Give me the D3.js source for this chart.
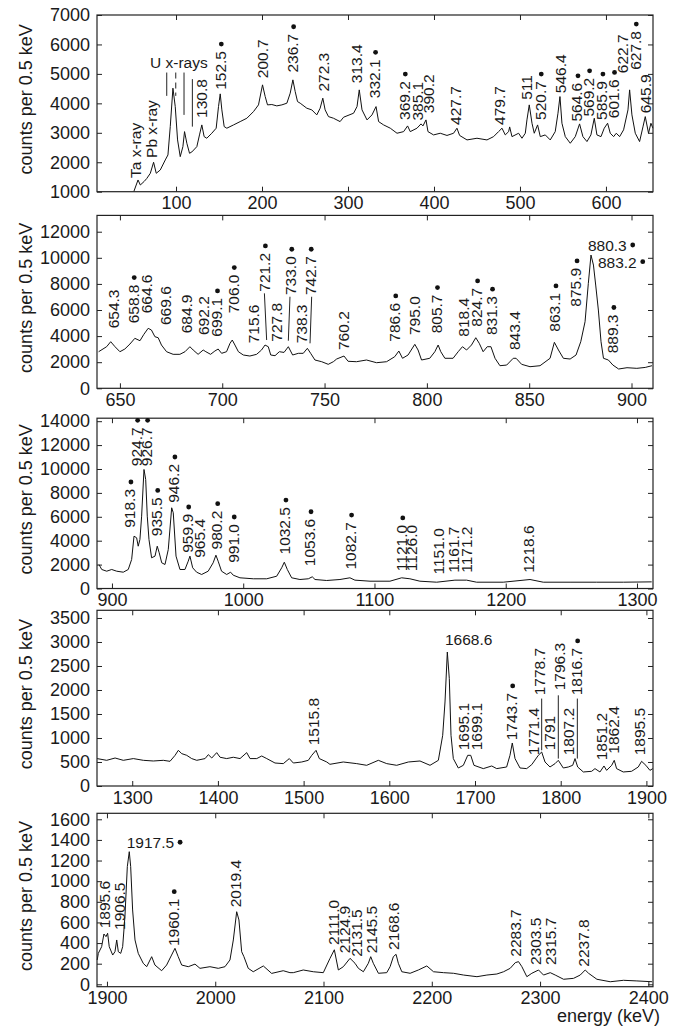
<!DOCTYPE html>
<html><head><meta charset="utf-8">
<script src="https://cdn.jsdelivr.net/npm/d3@7"></script>
<style>body{margin:0;background:#fff}text{font-family:"Liberation Sans",Arial,sans-serif;fill:#1a1a1a}</style>
</head><body><svg id="c" width="673" height="1027"></svg>
<script>
// ---------- DATA (energy keV, counts per 0.5 keV) ----------
const p1Spectrum = [[51,1010],[55.8,1398],[58.5,1228],[63,1350],[66,1450],[70.1,1625],[73.9,2000],[77,1625],[81.7,1738],[87.5,2078],[90.6,2248],[93.3,3210],[96.4,4515],[99.1,3890],[101.8,2758],[104.9,2190],[108,2530],[109.9,3040],[112.6,2645],[115.7,2305],[118.4,2350],[124.2,2530],[127.3,2928],[130,3268],[132.7,2870],[135.8,2815],[141.6,2985],[146.7,3156],[149.4,3890],[151.4,4322],[153.3,3778],[156,3210],[159.1,3156],[166.9,3268],[174.6,3380],[182.4,3495],[190.1,3720],[195.9,3948],[200.6,4628],[203.7,4230],[206.4,3948],[211.4,3960],[217.2,3914],[223.1,3948],[228.9,4005],[232.8,4346],[235.9,4798],[238.6,4400],[241.3,4060],[244.4,4005],[252.1,3835],[257.9,3778],[263.7,3608],[267.6,3835],[270.7,4176],[273.4,3778],[277.3,3550],[283.1,3495],[290.8,3380],[294.9,3530],[306.5,3665],[310.5,3890],[313.1,4458],[316.3,3778],[322.1,3438],[327.9,3608],[332.6,3890],[335.6,3380],[341.4,3268],[349.2,3156],[357,2985],[364.7,3040],[369.3,3234],[372.4,3040],[380.2,3156],[384.9,3302],[387.2,3234],[390.7,3438],[393,3040],[399.5,2928],[407.3,2985],[415.1,2910],[422.8,2985],[426.7,3156],[429.8,2910],[438.4,2758],[450,2815],[461.6,2758],[469.3,2870],[475.1,3040],[479.1,3156],[482.9,2928],[486.8,3040],[488,3200],[490.7,2870],[498.4,2985],[502.3,2815],[506.2,2985],[508.1,3438],[510.8,3948],[514,3324],[516.6,2985],[520.5,3268],[523.6,2870],[529.4,2928],[535.2,2758],[541,3040],[544.2,3665],[546.5,4230],[548.8,3324],[552.7,2870],[558.5,2645],[564.3,2870],[569.3,3302],[573.2,2870],[577.9,2702],[582.5,2928],[586.4,3495],[589.5,2928],[594.2,2870],[598,3156],[601.9,3325],[605,2985],[608.9,2870],[612,2985],[615.9,2870],[620.5,3100],[625.6,3778],[627.5,4458],[630.2,3608],[634.1,2985],[639.1,2702],[643,3200],[645.7,3550],[649.5,2985],[652.3,3324],[654.6,3156]];
const p2Spectrum = [[639.6,2804],[643.5,3187],[645.5,3570],[647.6,3187],[650,2804],[652.4,3010],[654.9,3393],[657.3,3830],[659.8,3646],[661.7,4136],[663.8,4596],[665.4,4466],[667.1,3953],[668.7,3876],[670.3,3317],[672.8,2804],[676,2604],[679.3,2604],[681.8,2804],[684.2,3187],[685.8,2934],[688.2,2604],[690.7,2934],[692,2804],[694.3,2604],[696.4,2857],[698,3010],[699.7,2681],[702.1,2804],[703.8,3447],[704.9,3700],[706.2,3317],[707.9,2804],[710.3,2551],[713.5,2474],[716.8,2604],[719.2,2934],[720.9,3317],[722.5,3187],[723.7,2551],[725.8,2500],[727.9,2804],[730.2,2750],[732.3,3187],[734.4,2551],[737.2,2681],[739.6,2681],[741.6,3064],[743.2,2681],[745.3,2168],[748.6,2038],[751.8,1838],[754.3,2038],[755.9,2244],[759.5,2474],[761.5,2070],[765.6,2038],[770.5,2168],[775.4,1961],[780.3,2038],[784.3,2423],[786.3,2857],[788.1,2300],[790.8,2551],[794.1,3370],[795.7,2934],[797.4,2168],[801.4,2300],[803.9,2804],[805.5,3317],[806.8,2804],[808.8,2300],[812.8,2300],[815.3,2804],[817.4,3187],[819.4,2934],[821.8,3317],[823.9,3876],[825.6,3447],[827.5,2804],[829.5,3187],[831.3,3187],[833.3,2300],[835.7,1731],[839,1782],[842.2,2300],[843.6,2300],[846.3,1838],[850.4,1655],[855.3,1731],[860.2,2300],[862.3,3524],[864.3,2934],[866.7,2300],[870,2244],[872.9,2551],[875.2,3570],[877.3,5102],[878.9,8043],[880.2,10211],[881.4,9445],[882.5,7913],[883.8,5998],[885.1,3570],[886.3,2300],[888.7,2168],[890.9,1782],[893.7,1478],[897.8,1578],[902.6,1530],[906.7,1600],[910,1731]];
const p3Spectrum = [[890.1,2009],[892.2,1590],[896,1448],[899.8,1590],[903.6,1448],[908.6,1364],[912.4,1590],[915,2427],[916.8,4378],[918.8,4243],[920,3540],[921.3,4101],[922.6,6051],[924.4,9960],[925.7,9123],[926.9,6051],[928.2,4101],[930.2,2570],[932.8,2709],[934.5,3540],[936,2988],[937.9,2151],[940.4,2009],[942.9,3264],[945.5,6754],[946.7,6336],[948.8,2709],[951.8,1590],[955.6,1590],[958.1,2285],[959.4,2709],[961.5,1733],[964.5,1364],[968.3,1172],[973.3,1448],[977.1,2151],[979.2,2788],[980.9,2285],[983.5,1448],[987.4,1172],[990.4,1364],[992.4,1113],[997.5,895],[1007.7,812],[1017.9,812],[1025.5,1030],[1029.3,1733],[1031.3,2200],[1033.6,1590],[1036.9,895],[1043.2,753],[1049.6,812],[1052.6,979],[1054.7,753],[1063.6,670],[1073.7,753],[1081.3,895],[1085.1,699],[1096.6,611],[1111.8,611],[1120.7,895],[1127,812],[1134.6,611],[1147.4,527],[1161.3,699],[1170.2,699],[1177.8,527],[1198.1,527],[1218.5,753],[1228.6,527],[1249,527],[1269.3,527],[1289.6,527],[1311.2,555]];
const p4Spectrum = [[1259,571],[1270.2,535],[1280,583],[1289.6,535],[1301.3,571],[1313,535],[1324.6,521],[1336.3,535],[1344.1,514],[1350,639],[1353.8,743],[1357.8,674],[1363.6,639],[1369.4,571],[1375.3,535],[1385,571],[1388.8,653],[1392.8,583],[1398.6,695],[1402.5,599],[1410.2,571],[1418,599],[1425.8,571],[1433.6,695],[1437.5,571],[1445.3,571],[1451.1,625],[1457,571],[1466.6,479],[1476.3,466],[1483.3,571],[1488,479],[1497.8,500],[1505.5,535],[1509.5,639],[1514.5,743],[1518.3,571],[1527,500],[1530.7,452],[1546.3,500],[1562,466],[1573.6,431],[1587.2,535],[1597,466],[1608.6,431],[1622.2,500],[1635.8,521],[1647.5,431],[1657.2,535],[1662.3,1056],[1665,1750],[1667.7,2791],[1670,2237],[1672,1056],[1674.7,571],[1680.5,375],[1686.4,431],[1691.5,639],[1695,639],[1698.8,431],[1709.7,362],[1719.5,417],[1725.3,362],[1736.9,396],[1740.8,639],[1743.5,896],[1746.7,571],[1752.5,375],[1760.3,362],[1766.2,445],[1773.9,639],[1777.8,708],[1781.7,500],[1787.5,396],[1793.4,466],[1797.2,535],[1803,375],[1808.9,396],[1814,431],[1816.7,571],[1819.8,396],[1826.4,292],[1836.1,306],[1840,362],[1845.8,292],[1850.5,417],[1853.6,326],[1859.5,431],[1862.5,535],[1865.2,362],[1873,292],[1882.7,306],[1890.5,396],[1894.4,514],[1899.4,431],[1904.1,326],[1907.5,362]];
const p5Spectrum = [[1891,236],[1892,300],[1895.1,365],[1897.2,488],[1899.1,462],[1900.6,495],[1902.1,365],[1905.3,284],[1907.4,316],[1909,430],[1910.5,316],[1912.7,300],[1914.5,365],[1916.6,656],[1918.8,1141],[1920.6,1286],[1921.9,1141],[1923.7,721],[1925.9,430],[1928.9,300],[1933.5,204],[1936.7,171],[1941.3,268],[1944.3,187],[1950.5,132],[1955.1,187],[1959.7,284],[1962.8,349],[1965.8,268],[1969,187],[1975.1,171],[1981.3,196],[1985.9,155],[1995.1,171],[2002.8,155],[2009,171],[2013.6,236],[2016.7,430],[2019.8,704],[2021.9,624],[2024.4,316],[2026.5,268],[2030.5,155],[2035.1,122],[2044.4,178],[2052.1,106],[2062.8,132],[2069,113],[2072.1,113],[2081.3,139],[2090.6,122],[2099.8,113],[2106,252],[2110,335],[2113.7,139],[2118.3,171],[2124.5,252],[2129.1,204],[2132.2,155],[2136.8,122],[2141.4,204],[2143.6,268],[2146,204],[2150.7,107],[2158.4,113],[2161.5,171],[2164.5,268],[2167,291],[2169.1,204],[2172.3,122],[2180,107],[2187.6,139],[2195.4,178],[2201.6,122],[2210.8,113],[2220.1,107],[2229.3,90],[2241.7,74],[2250.9,90],[2260.1,100],[2266.3,122],[2272.4,155],[2277.1,210],[2280.1,220],[2283.2,171],[2287.8,74],[2292.4,107],[2298.6,139],[2303.2,90],[2309.4,113],[2314,90],[2321.7,49],[2330.9,58],[2337.1,90],[2341.7,139],[2344.8,107],[2352.5,49],[2364.8,25],[2377.1,39],[2389.4,33],[2403.5,25]];

// peak labels: [text, energy, counts at label foot, dot?, orientation]
const p1Labels = [["Ta x-ray",52.5,1466,0],["Pb x-ray",72.1,2146,0],["130.8",130.2,3506,0],["152.5",151.5,4458,1],["200.7",200.7,4856,0],["236.7",235.6,5046,1],["272.3",271.3,4400,0],["313.4",310.5,4686,0],["332.1",330.9,4176,1],["369.2",365.5,3438,1],["385.1",380.9,3414,0],["390.2",393.7,3666,0],["427.7",424.8,3268,0],["479.7",476.3,3268,0],["511",508.1,4118,0],["520.7",523.6,3438,1],["546.4",546.9,4346,0],["564.6",566.3,3380,1],["569.2",579.8,3550,1],["585.9",595.3,3438,1],["601.6",608.8,3496,1],["622.7",619.8,5026,0],["627.8",634.1,5138,1],["645.9",645.7,3666,0]];
const p2Labels = [["654.3",646.7,4596,0],["658.8",656.5,4979,1],["664.6",663.0,5745,0],["669.6",672.3,4849,0],["684.9",682.6,4213,0],["692.2",690.7,4083,0],["699.1",697.2,3953,1],["706.0",705.4,5745,1],["715.6",715.5,3447,0],["721.2",720.6,7400,1],["727.8",726.7,3570,0],["733.0",733.5,7147,1],["738.3",738.9,3447,0],["742.7",743.0,7147,1],["760.2",759.5,2934,0],["786.6",784.3,3570,1],["795.0",794.1,4083,0],["805.7",804.7,4213,1],["818.4",817.8,3953,0],["824.7",824.3,4719,1],["831.3",831.6,4083,1],["843.4",842.8,2934,0],["863.1",862.6,4336,1],["875.9",872.9,6251,1],["880.3",878.7,10521,1,"h"],["883.2",883.6,9241,1,"h"],["889.3",890.9,2681,1]];
const p3Labels = [["918.3",913.7,5081,1],["924.7",918.8,10237,1],["926.7",926.4,10237,1],["935.5",934.1,4378,1],["946.2",947.2,7173,1],["959.9",957.7,2988,1],["965.4",966.5,2570,0],["980.2",979.8,3264,1],["991.0",992.4,2151,1],["1032.5",1031.8,2846,1],["1053.6",1050.9,1867,1],["1082.7",1081.8,1590,1],["1121.0",1120.8,1448,1],["1126.0",1128.3,1448,0],["1151.0",1148.8,1172,0],["1161.7",1160.3,1314,0],["1171.2",1170.4,1314,0],["1218.6",1217.2,1314,0]];
const p4Labels = [["1515.8",1512,848,0],["1668.6",1665,2931,0,"h"],["1695.1",1686.4,744,0],["1699.1",1702,744,0],["1743.7",1742.8,952,1],["1771.4",1768,639,0],["1778.7",1775.8,1889,0],["1791",1787.5,744,0],["1796.3",1799.2,1993,0],["1807.2",1808.8,639,0],["1816.7",1818.6,1889,1],["1851.2",1847.8,535,0],["1862.4",1861.4,674,0],["1895.5",1892.5,639,0]];
const p5Labels = [["1895.6",1898.2,543,0],["1906.5",1911.5,527,0],["1917.5",1918.2,1319,1,"h"],["1960.1",1961.2,371,1],["2019.4",2019.2,747,0],["2111.0",2109.1,381,0],["2124.9",2119.8,301,0],["2131.5",2130.6,268,0],["2145.5",2144.5,301,0],["2168.6",2164.5,333,0],["2283.7",2277,268,0],["2303.5",2295.5,187,0],["2315.7",2309.4,187,0],["2237.8",2340.6,171,0]];

// leader / marker lines: [e1, c1, e2, c2, dashed?]
const p1Markers = [[89.2,5046,89.2,4254,0],[99.7,5046,99.7,4254,1],[109.3,5046,109.3,3608,0],[119,4822,119,3210,0]];
const p2Leaders = [[720.6,7277,721.7,3700,0],[733.1,7017,732.3,3646,0],[743.7,7017,742.9,3447,0]];
const p4Leaders = [[1777.8,1821,1777.8,744,0],[1797.2,1889,1797.2,571,0],[1819.4,1821,1819.4,571,0]];

// axis ticks
const p1XTicks = [100,200,300,400,500,600], p1YTicks = [1000,2000,3000,4000,5000,6000,7000];
const p2XTicks = [650,700,750,800,850,900], p2YTicks = [0,2000,4000,6000,8000,10000,12000];
const p3XTicks = [900,1000,1100,1200,1300], p3YTicks = [0,2000,4000,6000,8000,10000,12000,14000];
const p4XTicks = [1300,1400,1500,1600,1700,1800,1900], p4YTicks = [0,500,1000,1500,2000,2500,3000,3500];
const p5XTicks = [1900,2000,2100,2200,2300,2400], p5YTicks = [0,200,400,600,800,1000,1200,1400,1600];

const yTitle = "counts per 0.5 keV";
const xTitle = "energy (keV)";

// ---------- DRAWING ----------
const svg = d3.select("#c");
const plotLeft = 97, plotRight = 653;
const panels = [
  {data:p1Spectrum, labels:p1Labels, lines:p1Markers, xDom:[8.1,654.7], yDom:[1000,7000], xt:p1XTicks, yt:p1YTicks, top:15, bottom:191.7},
  {data:p2Spectrum, labels:p2Labels, lines:p2Leaders, xDom:[638.8,910.5], yDom:[0,13250], xt:p2XTicks, yt:p2YTicks, top:215.4, bottom:388.3},
  {data:p3Spectrum, labels:p3Labels, lines:[], xDom:[888.6,1312.2], yDom:[0,14250], xt:p3XTicks, yt:p3YTicks, top:418.2, bottom:588.5},
  {data:p4Spectrum, labels:p4Labels, lines:p4Leaders, xDom:[1258.9,1907.7], yDom:[0,3660], xt:p4XTicks, yt:p4YTicks, top:610.3, bottom:786},
  {data:p5Spectrum, labels:p5Labels, lines:[], xDom:[1890.8,2404.3], yDom:[-23,1658], xt:p5XTicks, yt:p5YTicks, top:813.3, bottom:986.7}
];
const labelFont = 15.5, tickFont = 18;

panels.forEach((p, i) => {
  const x = d3.scaleLinear().domain(p.xDom).range([plotLeft, plotRight]);
  const y = d3.scaleLinear().domain(p.yDom).range([p.bottom, p.top]);
  const g = svg.append("g");

  g.append("path").datum(p.data)
    .attr("d", d3.line().x(d => x(d[0])).y(d => y(d[1])))
    .attr("fill", "none").attr("stroke", "#111").attr("stroke-width", 1).attr("stroke-linejoin", "round");

  g.append("rect").attr("x", plotLeft).attr("y", p.top)
    .attr("width", plotRight - plotLeft).attr("height", p.bottom - p.top)
    .attr("fill", "none").attr("stroke", "#222").attr("stroke-width", 1.2);

  const styleAxis = sel => { sel.select(".domain").remove(); sel.selectAll("line").attr("stroke", "#222");
    sel.selectAll("text").style("font-size", tickFont + "px").style("font-family", '"Liberation Sans",Arial,sans-serif').attr("fill", "#1a1a1a"); };
  g.append("g").attr("transform", `translate(0,${p.bottom})`)
    .call(d3.axisBottom(x).tickValues(p.xt).tickSizeInner(-5).tickSizeOuter(0).tickPadding(5).tickFormat(d3.format("d"))).call(styleAxis);
  g.append("g").attr("transform", `translate(0,${p.top})`)
    .call(d3.axisTop(x).tickValues(p.xt).tickSizeInner(-5).tickSizeOuter(0).tickFormat("")).call(styleAxis);
  g.append("g").attr("transform", `translate(${plotLeft},0)`)
    .call(d3.axisLeft(y).tickValues(p.yt).tickSizeInner(-5).tickSizeOuter(0).tickPadding(7).tickFormat(d3.format("d"))).call(styleAxis);
  g.append("g").attr("transform", `translate(${plotRight},0)`)
    .call(d3.axisRight(y).tickValues(p.yt).tickSizeInner(-5).tickSizeOuter(0).tickFormat("")).call(styleAxis);

  g.append("text").attr("transform", `translate(32,${(p.top + p.bottom) / 2 - 4}) rotate(-90)`)
    .attr("text-anchor", "middle").style("font-size", "18px").text(yTitle);

  p.lines.forEach(([e1, c1, e2, c2, dash]) => {
    g.append("line").attr("x1", x(e1)).attr("y1", y(c1)).attr("x2", x(e2)).attr("y2", y(c2))
      .attr("stroke", "#222").attr("stroke-width", 1).attr("stroke-dasharray", dash ? "6,4" : null);
  });

  p.labels.forEach(([t, e, c, dot, o]) => {
    if (o === "h") {
      const tx = g.append("text").attr("x", x(e)).attr("y", y(c)).style("font-size", labelFont + "px").text(t);
      const L = tx.node().getComputedTextLength();
      if (dot) g.append("circle").attr("cx", x(e) + L + 6).attr("cy", y(c) - 6).attr("r", 2.4).attr("fill", "#111");
    } else {
      const tx = g.append("text").attr("transform", `translate(${x(e)},${y(c)}) rotate(-90)`)
        .attr("dy", "0.35em").style("font-size", labelFont + "px").text(t);
      const L = tx.node().getComputedTextLength();
      if (dot) g.append("circle").attr("cx", x(e) + 1).attr("cy", y(c) - L - 7).attr("r", 2.4).attr("fill", "#111");
    }
  });

  if (i === 0) {
    g.append("text").attr("x", x(69.8)).attr("y", y(5206)).style("font-size", labelFont + "px").text("U x-rays");
  }
  if (i === panels.length - 1) {
    g.append("text").attr("x", 660).attr("y", 1022).attr("text-anchor", "end").style("font-size", "18px").text(xTitle);
  }
});
</script>
</body></html>
